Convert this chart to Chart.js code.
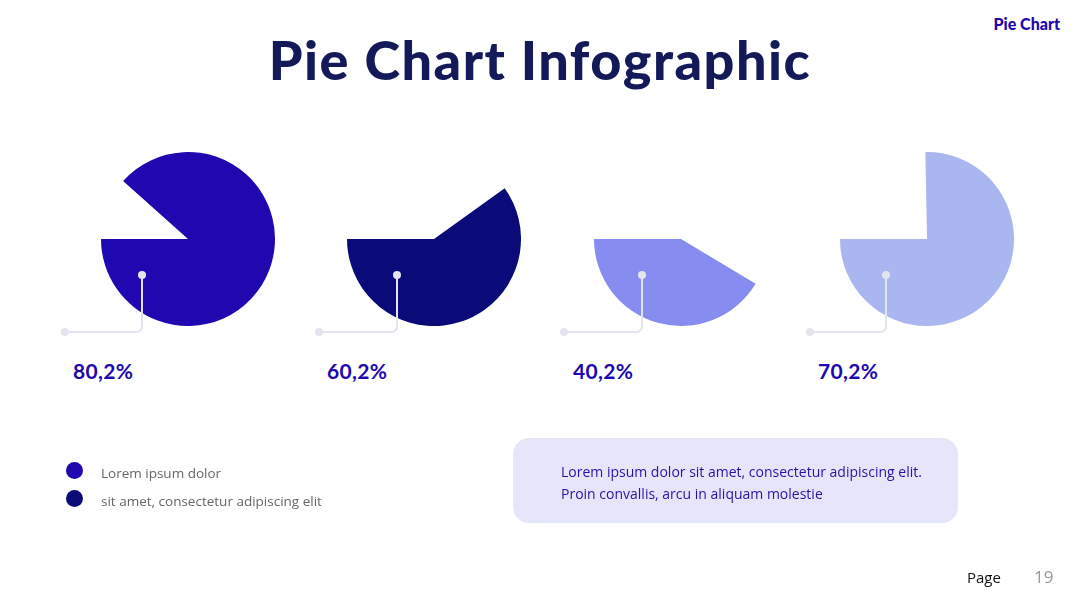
<!DOCTYPE html>
<html>
<head>
<meta charset="utf-8">
<script src="https://cdn.jsdelivr.net/npm/chart.js@4.4.1/dist/chart.umd.min.js"></script>
<style>
  html, body { margin: 0; padding: 0; background: #ffffff; }
  #stage { position: relative; width: 1080px; height: 608px; overflow: hidden; background: #fff; }
  .abs { position: absolute; }
  #title { left: 0; width: 1080px; top: 33px; text-align: center; font-family: Lato, sans-serif; font-weight: 900; font-size: 54px; color: #14195A; line-height: 1; letter-spacing: 1.5px; }
  #corner { right: 20px; top: 14px; font-family: Lato, sans-serif; font-weight: 900; font-size: 16px; color: #2008B0; letter-spacing: 0px; }
  .pct { font-family: Lato, sans-serif; font-weight: 700; font-size: 21px; color: #2008B0; top: 359px; line-height: 24px; letter-spacing: 0.3px; }
  .legdot { width: 17px; height: 17px; border-radius: 50%; }
  .legtxt { font-family: "Open Sans", sans-serif; font-size: 13.5px; color: #666; line-height: 18px; }
  #box { left: 513px; top: 438px; width: 445px; height: 85px; border-radius: 16px; background: #E6E6FA; }
  #boxtxt { left: 561px; top: 461px; font-family: "Open Sans", sans-serif; font-size: 14px; color: #2A10A8; line-height: 22px; }
  #page { left: 967px; top: 567px; font-family: "Open Sans", sans-serif; font-size: 15px; color: #111; }
  #pnum { left: 1034px; top: 565px; font-family: "Open Sans", sans-serif; font-size: 17px; color: #999; }
  canvas.pie { position: absolute; }
  svg { position: absolute; left: 0; top: 0; }
</style>
</head>
<body>
<div id="stage">
  <div id="title" class="abs">Pie Chart Infographic</div>
  <div id="corner" class="abs">Pie Chart</div>
</div>
<script>
// ---- data ----
const categories = ["A", "B", "C", "D"];
const labelTexts = ["80,2%", "60,2%", "40,2%", "70,2%"];
const filledShare = [88.4, 59.9, 41.4, 75.3];   // filled part of each pie (% of circle)
const pieColors = ["#2008B0", "#0A0A78", "#878CF0", "#AAB6F0"];
const legendLabels = ["Lorem ipsum dolor", "sit amet, consectetur adipiscing elit"];
const legendColors = ["#2008B0", "#0A0A78"];
const noteLines = ["Lorem ipsum dolor sit amet, consectetur adipiscing elit.", "Proin convallis, arcu in aliquam molestie"];
const pageLabel = "Page";
const pageNumber = "19";

// ---- layout ----
const stage = document.getElementById("stage");
const pieCX = [188, 434, 681, 927];
const pieCY = 239;
const R = 87;
const dotX = [142, 397, 642, 886];
const leftDotX = [65, 319, 564, 810];
const labelX = [73, 327, 573, 818];

categories.forEach((cat, i) => {
  const c = document.createElement("canvas");
  c.className = "pie";
  c.width = 2 * R; c.height = 2 * R;
  c.style.left = (pieCX[i] - R) + "px";
  c.style.top = (pieCY - R) + "px";
  c.style.width = 2 * R + "px"; c.style.height = 2 * R + "px";
  stage.appendChild(c);
  new Chart(c, {
    type: "pie",
    data: {
      labels: ["gap", cat],
      datasets: [{
        data: [100 - filledShare[i], filledShare[i]],
        backgroundColor: ["rgba(0,0,0,0)", pieColors[i]],
        borderWidth: 0,
        hoverOffset: 0,
        offset: 0
      }]
    },
    options: {
      responsive: false,
      animation: false,
      events: [],
      rotation: 270,
      layout: { padding: 0 },
      plugins: { legend: { display: false }, tooltip: { enabled: false } }
    }
  });

  const lab = document.createElement("div");
  lab.className = "abs pct";
  lab.style.left = labelX[i] + "px";
  lab.textContent = labelTexts[i];
  stage.appendChild(lab);
});

// connectors
const NS = "http://www.w3.org/2000/svg";
const svg = document.createElementNS(NS, "svg");
svg.setAttribute("width", 1080); svg.setAttribute("height", 608);
const yTop = 275, yBot = 332, rad = 6;
categories.forEach((cat, i) => {
  const p = document.createElementNS(NS, "path");
  const x1 = dotX[i], x0 = leftDotX[i];
  p.setAttribute("d", `M${x1} ${yTop} L${x1} ${yBot - rad} Q${x1} ${yBot} ${x1 - rad} ${yBot} L${x0} ${yBot}`);
  p.setAttribute("fill", "none");
  p.setAttribute("stroke", "#E4E4EE");
  p.setAttribute("stroke-width", "2");
  svg.appendChild(p);
  [[x1, yTop], [x0, yBot]].forEach(([x, y]) => {
    const d = document.createElementNS(NS, "circle");
    d.setAttribute("cx", x); d.setAttribute("cy", y); d.setAttribute("r", 4);
    d.setAttribute("fill", "#E4E4EE");
    svg.appendChild(d);
  });
});
stage.appendChild(svg);

// legend
legendLabels.forEach((t, i) => {
  const d = document.createElement("div");
  d.className = "abs legdot";
  d.style.left = "66px"; d.style.top = (462 + i * 28) + "px";
  d.style.background = legendColors[i];
  stage.appendChild(d);
  const s = document.createElement("div");
  s.className = "abs legtxt";
  s.style.left = "101px"; s.style.top = (464 + i * 28) + "px";
  s.textContent = t;
  stage.appendChild(s);
});

// note box
const box = document.createElement("div");
box.id = "box"; box.className = "abs";
stage.appendChild(box);
const bt = document.createElement("div");
bt.id = "boxtxt"; bt.className = "abs";
bt.innerHTML = noteLines.join("<br>");
stage.appendChild(bt);

const pg = document.createElement("div");
pg.id = "page"; pg.className = "abs"; pg.textContent = pageLabel;
stage.appendChild(pg);
const pn = document.createElement("div");
pn.id = "pnum"; pn.className = "abs"; pn.textContent = pageNumber;
stage.appendChild(pn);
</script>
</body>
</html>
